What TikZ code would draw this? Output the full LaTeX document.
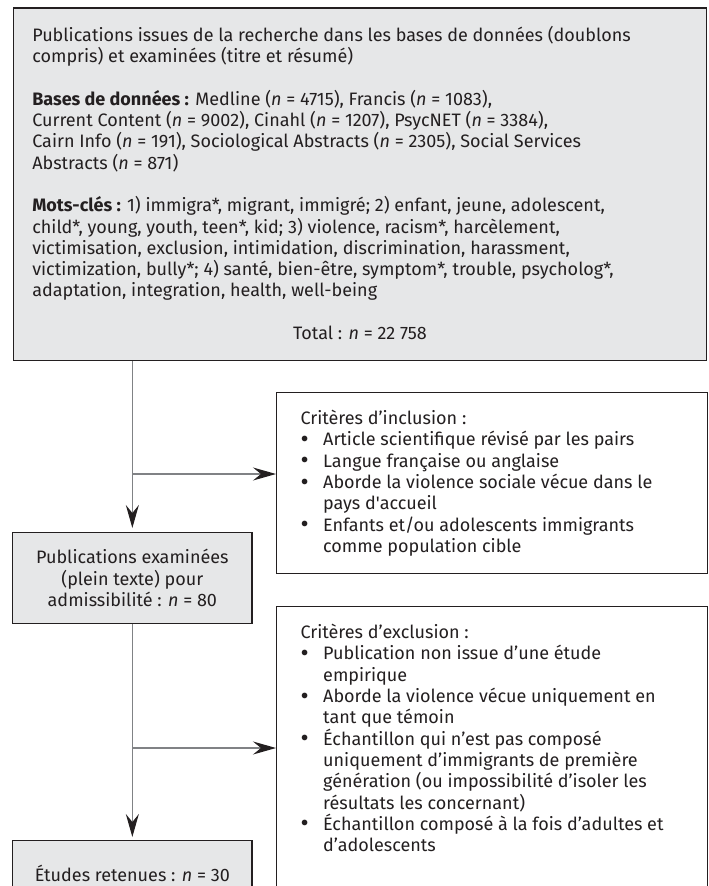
\documentclass[tikz,border=0pt]{standalone}
\usepackage{fontspec}
\setmainfont{Fira Sans}
\usetikzlibrary{arrows.meta,positioning}
\definecolor{boxgray}{HTML}{E6E7E8}
\definecolor{ink}{HTML}{231F20}
\definecolor{linkgray}{HTML}{808285}
\newcommand\bul{\makebox[22.6pt][l]{\smash{\raisebox{-1.5pt}{\fontsize{25}{21.3}\selectfont\textbullet}}}}
\newcommand\cont{\hspace*{22.6pt}}
\begin{document}
\begin{tikzpicture}[x=1pt, y=-1pt, font=\fontsize{18}{21.3}\selectfont, text=ink,
    >={Stealth[length=23pt, width=13pt, inset=8pt, color=ink]},
    grey/.style={draw=ink, fill=boxgray, line width=1.2pt, inner sep=0pt},
    crit/.style={draw=ink, fill=white, line width=1.2pt, inner xsep=24pt, inner ysep=0pt, anchor=north west},
    link/.style={draw=linkgray, line width=1.2pt}]
  \useasboundingbox (0,0) rectangle (709,886);
  \node[grey, anchor=north west, inner xsep=19pt] (search) at (12.7,7.3) {\parbox[t][352.7pt][t]{655.3pt}{\raggedright
    \rule{0pt}{33.4pt}Publications issues de la recherche dans les bases de données (doublons\\
    compris) et examinées (titre et résumé)\\[21.3pt]
    \textbf{Bases de données :} Medline (\textit{n} = 4715), Francis (\textit{n} = 1083),\\
    Current Content (\textit{n} = 9002), Cinahl (\textit{n} = 1207), PsycNET (\textit{n} = 3384),\\
    Cairn Info (\textit{n} = 191), Sociological Abstracts (\textit{n} = 2305), Social Services\\
    Abstracts (\textit{n} = 871)\\[21.3pt]
    \textbf{Mots-clés :} 1) immigra*, migrant, immigré; 2) enfant, jeune, adolescent,\\
    child*, young, youth, teen*, kid; 3) violence, racism*, harcèlement,\\
    victimisation, exclusion, intimidation, discrimination, harassment,\\
    victimization, bully*; 4) santé, bien-être, symptom*, trouble, psycholog*,\\
    adaptation, integration, health, well-being\\[21.3pt]
    \makebox[\linewidth]{Total : \textit{n} = 22 758}}};
  \node[grey, anchor=north, minimum width=239.3pt, minimum height=91pt, align=center] (screen) at (132.35,532)
    {Publications examinées\\(plein texte) pour\\admissibilité : \textit{n} = 80};
  \node[grey, anchor=north, minimum width=239.3pt, minimum height=66pt] (kept) at (132.35,840)
    {Études retenues : \textit{n} = 30};
  \node[crit] (incl) at (276,392) {\parbox[t][181pt][t]{383pt}{\raggedright
    \rule{0pt}{32pt}Critères d’inclusion :\\
    \bul Article scientifique révisé par les pairs\\
    \bul Langue française ou anglaise\\
    \bul Aborde la violence sociale vécue dans le\\
    \cont pays d\textquotesingle accueil\\
    \bul Enfants et/ou adolescents immigrants\\
    \cont comme population cible}};
  \node[crit] (excl) at (276,606) {\parbox[t][305pt][t]{383pt}{\raggedright
    \rule{0pt}{32pt}Critères d’exclusion :\\
    \bul Publication non issue d’une étude\\
    \cont empirique\\
    \bul Aborde la violence vécue uniquement en\\
    \cont tant que témoin\\
    \bul Échantillon qui n’est pas composé\\
    \cont uniquement d’immigrants de première\\
    \cont génération (ou impossibilité d’isoler les\\
    \cont résultats les concernant)\\
    \bul Échantillon composé à la fois d’adultes et\\
    \cont d’adolescents}};
  \coordinate (fork1) at (132.35,474);
  \coordinate (fork2) at (132.35,748);
  \draw[link,->,shorten >=4pt] (search.south -| screen.north) -- (screen.north);
  \draw[link,->] (fork1) -- (fork1 -| incl.west);
  \draw[link,->,shorten >=3pt] (screen.south) -- (kept.north);
  \draw[link,->] (fork2) -- (fork2 -| excl.west);
\end{tikzpicture}
\end{document}
